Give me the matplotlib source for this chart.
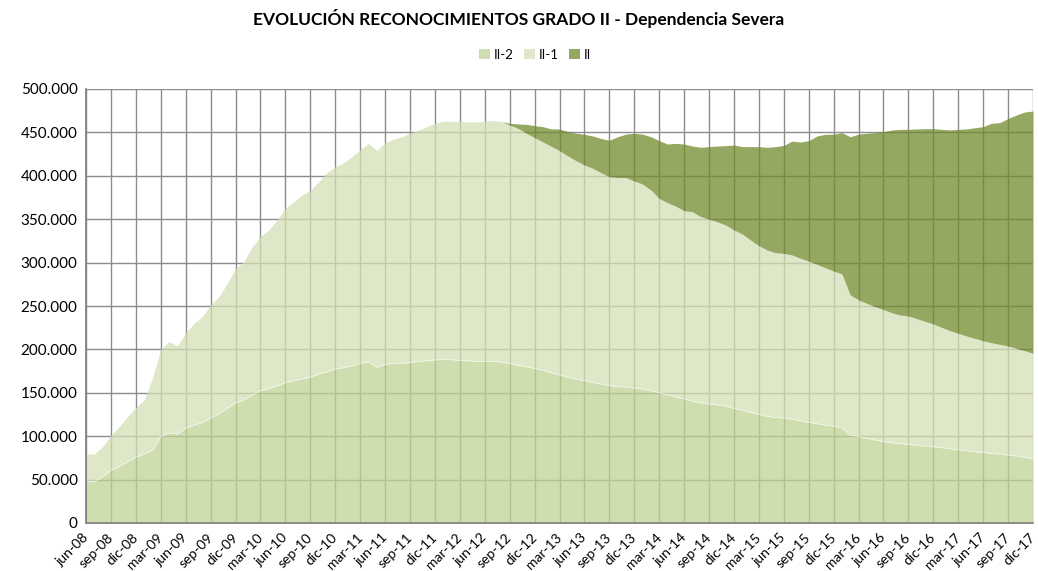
import matplotlib
matplotlib.use("Agg")
import matplotlib.pyplot as plt
import matplotlib.ticker as mticker
import matplotlib.transforms as mtransforms
import numpy as np

# Data (thousands of people), monthly jun-08 .. dic-17
month_abbr = ["ene", "feb", "mar", "abr", "may", "jun", "jul", "ago", "sep", "oct", "nov", "dic"]
start_year, start_month = 2008, 6
n_months = 115

ii2 = [47.6, 47.6, 53.4, 61, 65, 70.6, 76,
       79.5, 84, 99.4, 104, 102.5, 109, 113, 115.6, 121, 126, 132, 138.6,
       141.7, 147.5, 152.4, 155, 158, 161.6, 164, 166, 168, 171.7, 174, 177.4,
       179, 181, 184, 185.8, 179.3, 182.8, 184, 184.3, 185, 186.2, 187, 187.8,
       188.6, 188.2, 187.4, 187, 186.2, 186.2, 186.2, 185.5, 183.6, 181.6, 180, 178.2,
       175.9, 173.2, 170.5, 167.8, 165.9, 164, 162, 160.1, 158.2, 157.5, 156.7, 155.5,
       154.4, 152.4, 150.1, 147.5, 145.2, 142.9, 140.6, 138.6, 137.1, 136, 134.8, 132.1,
       129.8, 127.5, 125.2, 122.9, 121.7, 121, 119.8, 117.9, 116, 114.4, 112.9, 111.7,
       109.8, 101.4, 99.4, 97.6, 95.6, 94.1, 92.5, 91.4, 90.6, 89.5, 88.7, 87.9,
       86.8, 85.6, 84.4, 83.3, 82.1, 81.4, 80.3, 79.5, 78.3, 77.2, 75.7, 74.1]

ii1 = [31.9, 31.9, 34.5, 40, 46, 51.9, 57,
       62.2, 83, 100.6, 105, 101.5, 110, 117, 122.4, 130, 134.7, 144, 154.4,
       159.3, 170.5, 177.6, 182.6, 191, 200.9, 206, 212, 215, 221.3, 229.6, 233.1,
       236, 241, 245.7, 251.6, 249.7, 255.2, 258, 260.7, 264, 266.6, 269.6, 272.7,
       274.4, 274.6, 275, 275, 275.8, 276.6, 277.8, 276.9, 274.9, 273.1, 269, 265.8,
       263.1, 260.8, 258.5, 255, 251.5, 248.4, 246.6, 243.5, 240.8, 240.5, 241.3, 238.5,
       236.1, 231.2, 223.9, 221.5, 219.8, 216.9, 218.1, 214.4, 212.9, 211, 208.5, 205.5,
       203.2, 198.5, 194.3, 191.6, 189.7, 189.7, 189, 187.1, 185.8, 183.6, 181.1, 178.6,
       177.1, 161.3, 157.6, 155.4, 153.6, 151.9, 149.8, 148.2, 147.9, 145.9, 143.6, 141.4,
       138.6, 135.9, 134.1, 132.1, 130.6, 128.6, 127.4, 126.3, 125.6, 124, 122.8, 121.4]

ii = [0, 0, 0, 0, 0, 0, 0,
      0, 0, 0, 0, 0, 0, 0, 0, 0, 0, 0, 0,
      0, 0, 0, 0, 0, 0, 0, 0, 0, 0, 0, 0,
      0, 0, 0, 0, 0, 0, 0, 0, 0, 0, 0, 0,
      0, 0, 0, 0, 0, 0, 0, 0, 2, 5, 10.3, 13.8,
      17.6, 20, 25, 28.2, 31.6, 35.4, 37.3, 39.4, 42, 47, 50, 55,
      57.5, 61.4, 66.5, 67.6, 72.4, 76.8, 75.6, 79.8, 83.6, 87.3, 91.4, 97.9,
      100.6, 107.6, 114.1, 118.3, 122.2, 124.3, 131.2, 133.9, 138.6, 147.9, 153.8, 157.7,
      162.8, 182.3, 191, 196, 200.5, 204.8, 210.5, 213.9, 215, 218.6, 222, 225,
      228.1, 231.3, 235, 238.6, 242.7, 246.6, 252.8, 255.4, 262.1, 268.8, 275, 279.1]

series_names = ["II-2", "II-1", "II"]
colors = ["#bfd395", "#d4dfb5", "#708b2d"]

labels = []
for i in range(n_months):
    m = (start_month - 1 + i) % 12
    y = start_year + (start_month - 1 + i) // 12
    labels.append(f"{month_abbr[m]}-{y % 100:02d}")

x = np.arange(n_months)
a = np.array(ii2) * 1000
b = np.array(ii1) * 1000
c = np.array(ii) * 1000

plt.rcParams['font.family'] = ['Lato', 'DejaVu Sans']

fig = plt.figure(figsize=(10.38, 5.71), dpi=100)
ax = fig.add_axes([86/1038, 48/571, (1033-86)/1038, (523-89)/571])

ax.set_axisbelow(True)
ax.grid(True, color="#8c8c8c", linewidth=1.0)

ax.fill_between(x, 0, a, color=colors[0], alpha=0.75, linewidth=0, label=series_names[0])
ax.fill_between(x, a, a + b, color=colors[1], alpha=0.75, linewidth=0, label=series_names[1])
ax.fill_between(x, a + b, a + b + c, color=colors[2], alpha=0.75, linewidth=0, label=series_names[2])
ax.plot(x, a, color="white", linewidth=0.6, alpha=0.6)

ax.set_xlim(0, n_months - 1)
ax.set_ylim(0, 500000)
ax.yaxis.set_major_locator(mticker.MultipleLocator(50000))
ax.yaxis.set_major_formatter(mticker.FuncFormatter(
    lambda v, p: "0" if v == 0 else f"{int(v):,}".replace(",", ".")))

tick_idx = list(range(0, n_months, 3))
ax.set_xticks(tick_idx)
ax.set_xticklabels([labels[i] for i in tick_idx], rotation=45, ha="right",
                   rotation_mode="anchor", fontsize=10)
ax.tick_params(axis="x", length=0, pad=6)
ax.tick_params(axis="y", length=0, pad=6, labelsize=11)
offset = mtransforms.ScaledTranslation(-4/100, 0, fig.dpi_scale_trans)
for lbl in ax.get_xticklabels():
    lbl.set_transform(lbl.get_transform() + offset)

for s in ["top", "right"]:
    ax.spines[s].set_visible(False)
for s in ["left", "bottom"]:
    ax.spines[s].set_color("#7f7f7f")
    ax.spines[s].set_linewidth(1.2)

fig.suptitle("EVOLUCIÓN RECONOCIMIENTOS GRADO II - Dependencia Severa",
             x=0.5, y=0.985, fontsize=12.5, fontweight="bold")

leg = fig.legend(loc="center", bbox_to_anchor=(535/1038, 1 - 55/571), ncol=3,
                 frameon=False, fontsize=9.5, handlelength=0.8, handleheight=0.8,
                 handletextpad=0.3, columnspacing=0.8)

fig.savefig("out.png", dpi=100)
